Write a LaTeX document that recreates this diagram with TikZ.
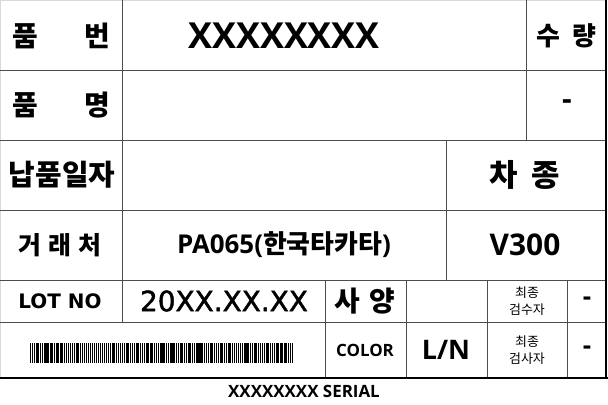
\documentclass[tikz,border=0pt]{standalone}
\usepackage{fontspec}
\setmainfont{Open Sans}
\newfontfamily\krfont{Noto Sans CJK KR}
\newfontfamily\wideface{DejaVu Sans}
\newfontfamily\widethick{DejaVu Sans}[FakeBold=1.6]
\usepackage{tikz}

\tikzset{
  cell line/.style = {draw=black!70, line width=0.9bp},
  frame line/.style = {draw=black, line width=1.8bp},
  txt/.style = {inner sep=0pt, anchor=center},
  kor/.style = {txt, font=\krfont\bfseries\fontsize{#1}{#1}\selectfont},
  kor/.default = 28,
  lat/.style = {txt, font=\bfseries\fontsize{#1}{#1}\selectfont},
  lat/.default = 24,
  small kor/.style = {txt, align=center, font=\krfont\fontsize{13}{17}\selectfont}
}

\begin{document}
\begin{tikzpicture}[x=1bp, y=-1bp]
        \useasboundingbox (0,0) rectangle (608,404);
        \fill[white] (0,0) rectangle (608,404);
        \draw[draw=black!15, line width=1bp] (0.5,378) -- (0.5,0.5) -- (606,0.5);
        \foreach \y in {70,140,210,280,322}
            \draw[cell line] (0,\y) -- (606,\y);
        \draw[cell line] (122,0) -- (122,322);
        \draw[cell line] (526,0) -- (526,140);
        \draw[cell line] (446,140) -- (446,280);
        \foreach \x in {325,406,487,567}
            \draw[cell line] (\x,280) -- (\x,378);
        \draw[frame line] (606,0) -- (606,378);
        \draw[frame line] (0,378) -- (608,378);
        \node[kor] (pumbeon) at (61,36) {품\hspace{46bp}번};
        \node[lat=36] (partno) at (284,36) {XXXXXXXX};
        \node[kor=26] (suryang) at (566,36) {수\hspace{12bp}량};
        \node[kor] (pummyeong) at (61,105) {품\hspace{46bp}명};
        \node[lat=30] (qty) at (567,105) {-};
        \node[kor=29] (napum) at (62,175) {납품일자};
        \node[kor=31] (chajong) at (525,175) {차\hspace{14bp}종};
        \node[kor=25] (georaecheo) at (60,245) {거\hspace{7bp}래\hspace{7bp}처};
        \node[lat=26] (vendor) at (284,245) {PA065({\krfont 한국타카타})};
        \node[lat=30] (car) at (525,245) {V300};
        \node[txt, font=\wideface\bfseries\fontsize{20}{20}\selectfont] (lotno) at (60,301) {LOT NO};
        \node[txt, font=\widethick\fontsize{28}{28}\selectfont] (lotval) at (224,301) {20XX.XX.XX};
        \node[kor=28] (sayang) at (365,301) {사\hspace{9bp}양};
        \node[small kor] (insp1) at (527,301) {최종\\검수자};
        \node[lat=26] (dash1) at (587,301) {-};
        \pgfmathsetseed{42}
        \foreach \i in {0,...,131}{
            \pgfmathsetmacro{\w}{0.6+1.2*rnd}
            \fill[black] ({30+2*\i},343) rectangle ++(\w,20);
        }
        \node[lat=17] (color) at (365,350) {COLOR};
        \node[lat=27] (ln) at (446,350) {L/N};
        \node[small kor] (insp2) at (527,350) {최종\\검사자};
        \node[lat=26] (dash2) at (587,350) {-};
        \node[lat=17] (serial) at (304,391) {XXXXXXXX SERIAL};
\end{tikzpicture}
\end{document}
